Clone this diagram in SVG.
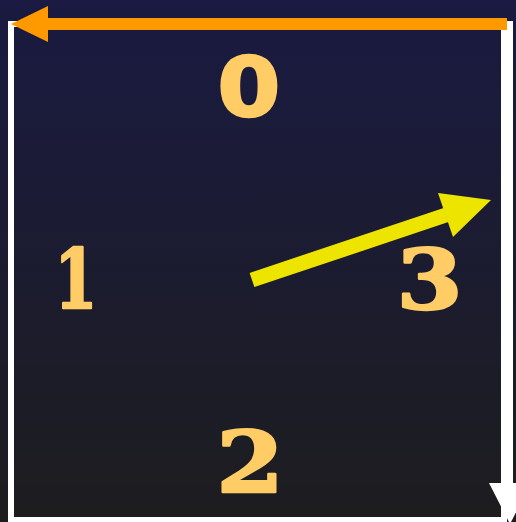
<svg xmlns="http://www.w3.org/2000/svg" width="516" height="522" viewBox="0 0 516 522">
  <defs>
    <linearGradient id="bg" x1="0" y1="0" x2="0" y2="1">
      <stop offset="0" stop-color="#1a1a42"/>
      <stop offset="1" stop-color="#1d1d1f"/>
    </linearGradient>
    <style>
      .lbl { fill: #ffcc66; stroke: #ffcc66; stroke-width: 2.5; stroke-linejoin: round; font-weight: bold; text-anchor: middle; }
      .sans { font-family: "DejaVu Sans", "Liberation Sans", sans-serif; }
      .serif { font-family: "DejaVu Serif", "Liberation Serif", serif; }
    </style>
  </defs>
  <rect x="0" y="0" width="516" height="522" fill="url(#bg)"/>
  <g id="connectors">
    <rect x="11" y="24" width="493" height="496" fill="none" stroke="#ffffff" stroke-width="6"/>
    <g id="edge-down">
      <line x1="507" y1="21" x2="507" y2="484" stroke="#ffffff" stroke-width="12"/>
      <polygon points="489,483 531,483 510,524" fill="#ffffff"/>
    </g>
    <g id="edge-left">
      <line x1="507" y1="24" x2="47" y2="24" stroke="#ff9900" stroke-width="12"/>
      <polygon points="11,24 48,6 48,42" fill="#ff9900"/>
    </g>
  </g>
  <g id="node-0"><text class="lbl sans" font-size="82" transform="translate(249,116) scale(1.1,1)">0</text></g>
  <g id="node-1"><text class="lbl serif" font-size="82" transform="translate(76,308) scale(0.75,1)">1</text></g>
  <g id="node-2"><text class="lbl serif" font-size="84" transform="translate(250,492) scale(1.15,1)">2</text></g>
  <g id="node-3"><text class="lbl serif" font-size="82" transform="translate(429.5,309) scale(1.15,1)">3</text></g>
  <g id="connectors-pointer">
    <line x1="252" y1="280" x2="446" y2="215" stroke="#ede500" stroke-width="15"/>
    <polygon points="491,200 438,193 453,237" fill="#ede500"/>
  </g>
</svg>
